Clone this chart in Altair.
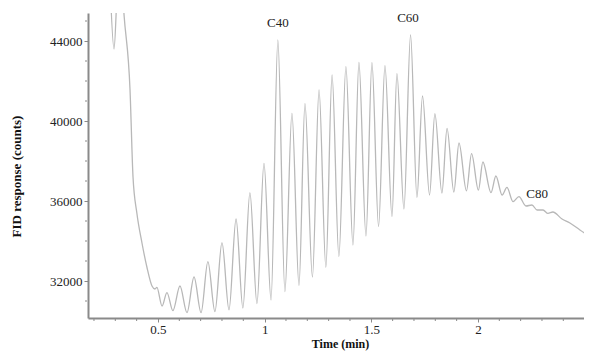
import altair as alt
import pandas as pd

# Chromatogram trace (peak and valley vertices)
time_min = [0.275, 0.294, 0.312, 0.327, 0.341, 0.369, 0.383, 0.401, 0.425, 0.448,
            0.472, 0.486, 0.495, 0.519, 0.542, 0.570, 0.603, 0.636, 0.669, 0.702,
            0.734, 0.767, 0.800, 0.833, 0.866, 0.898, 0.931, 0.964, 0.997, 1.030,
            1.062, 1.095, 1.128, 1.161, 1.189, 1.224, 1.255, 1.287, 1.316, 1.348,
            1.381, 1.414, 1.442, 1.475, 1.503, 1.534, 1.564, 1.597, 1.620, 1.653,
            1.684, 1.714, 1.740, 1.773, 1.798, 1.831, 1.855, 1.887, 1.911, 1.946,
            1.970, 2.002, 2.023, 2.061, 2.084, 2.113, 2.136, 2.164, 2.192, 2.225,
            2.253, 2.277, 2.305, 2.328, 2.351, 2.394, 2.431, 2.478, 2.534]
response = [47000, 43600, 47000, 47500, 45300, 41550, 37200, 35400, 33900, 32700,
            31750, 31600, 31680, 30750, 31420, 30520, 31750, 30420, 32200, 30420,
            32970, 30470, 33920, 30560, 35100, 30650, 36420, 30870, 37880, 31050,
            44050, 31470, 40380, 31780, 40870, 32200, 41560, 32680, 42300, 33220,
            42720, 33800, 42925, 34250, 42920, 34720, 42770, 35220, 42370, 35600,
            44300, 36180, 41250, 36300, 40370, 36400, 39630, 36450, 38900, 36510,
            38370, 36540, 37950, 36420, 37250, 36300, 36680, 35970, 36220, 35750,
            35800, 35550, 35550, 35380, 35450, 35100, 34900, 34550, 34150]

label_text = ["C40", "C60", "C80"]
label_time = [1.062, 1.672, 2.277]
label_resp = [44700, 44950, 36150]

x_major = [0.5, 1.0, 1.5, 2.0]
x_minor = [0.2, 0.3, 0.4, 0.6, 0.7, 0.8, 0.9, 1.1, 1.2, 1.3, 1.4, 1.6, 1.7,
           1.8, 1.9, 2.1, 2.2, 2.3, 2.4]
y_major = [32000, 36000, 40000, 44000]
y_minor = [31000, 33000, 34000, 35000, 37000, 38000, 39000, 41000, 42000,
           43000, 45000]

trace = pd.DataFrame({"t": time_min, "r": response})
labels = pd.DataFrame({"label": label_text, "t": label_time, "r": label_resp})
xminor_df = pd.DataFrame({"t": x_minor})
yminor_df = pd.DataFrame({"r": y_minor})

FONT = "Liberation Serif"
AXIS_GRAY = "#8a8a8a"
W, H = 496, 305
x_scale = alt.Scale(domain=[0.172, 2.497], nice=False, zero=False)
y_scale = alt.Scale(domain=[30150, 45400], nice=False, zero=False)

x_axis = alt.Axis(
    values=x_major, labelExpr="format(datum.value, '~g')",
    title="Time (min)", titleFont=FONT, titleFontSize=12, titleFontWeight="bold",
    titleColor="#111", titleY=20, titleBaseline="top", titleX=252,
    labelFont=FONT, labelFontSize=13, labelColor="#222", labelPadding=1,
    labelFlush=False,
    domainColor=AXIS_GRAY, domainWidth=2, tickColor=AXIS_GRAY, tickSize=4,
    grid=False,
)
y_axis = alt.Axis(
    values=y_major, format="d",
    title="FID response (counts)", titleFont=FONT, titleFontSize=13,
    titleFontWeight="bold", titleColor="#111", titleAngle=-90,
    titleX=-65, titleY=163, titleAlign="center", titleBaseline="bottom",
    labelFont=FONT, labelFontSize=13, labelColor="#222", labelPadding=2,
    labelFlush=False,
    domainColor=AXIS_GRAY, domainWidth=2, tickColor=AXIS_GRAY, tickSize=4,
    grid=False,
)

line = alt.Chart(trace).mark_line(
    color="#b8b8b8", strokeWidth=1.3, interpolate="monotone", clip=True
).encode(
    x=alt.X("t:Q", scale=x_scale, axis=x_axis),
    y=alt.Y("r:Q", scale=y_scale, axis=y_axis),
)

text = alt.Chart(labels).mark_text(
    font=FONT, fontSize=13, color="#222", baseline="alphabetic", align="center"
).encode(
    x=alt.X("t:Q", scale=x_scale),
    y=alt.Y("r:Q", scale=y_scale),
    text="label:N",
)

x_minor_ticks = alt.Chart(xminor_df).mark_rule(color=AXIS_GRAY, strokeWidth=1).encode(
    x=alt.X("t:Q", scale=x_scale),
    y=alt.value(H + 1),
    y2=alt.value(H + 3),
)
y_minor_ticks = alt.Chart(yminor_df).mark_rule(color=AXIS_GRAY, strokeWidth=1).encode(
    y=alt.Y("r:Q", scale=y_scale),
    x=alt.value(-3),
    x2=alt.value(-1),
)

chart = alt.layer(line, text, x_minor_ticks, y_minor_ticks).properties(
    width=W, height=H,
    padding={"left": 80, "top": 5, "right": 0, "bottom": 33},
    autosize=alt.AutoSizeParams(type="none"),
).configure_view(stroke=None)

chart.save("out.html", embed_options={"renderer": "svg", "actions": False})
